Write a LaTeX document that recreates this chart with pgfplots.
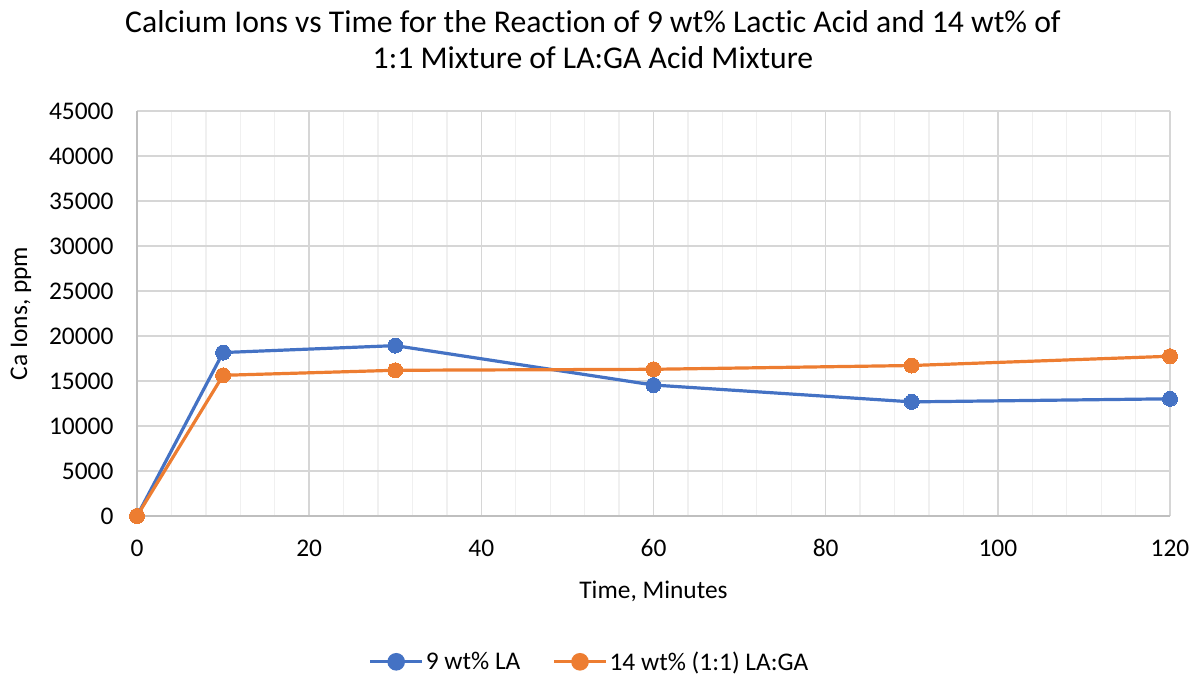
\documentclass[border=0pt]{standalone}
\usepackage{pgfplots}
\pgfplotsset{compat=1.18}
\usepackage{fontspec}
\setmainfont{Carlito}[Ligatures=NoCommon]
\definecolor{cblue}{HTML}{4472C4}
\definecolor{corange}{HTML}{ED7D31}
\definecolor{gmaj}{HTML}{D6D6D6}
\definecolor{gmin}{HTML}{F0F0F0}
\definecolor{axc}{HTML}{BFBFBF}
\begin{document}
\begin{tikzpicture}[x=1bp,y=1bp]
\path[use as bounding box] (0,0) rectangle (1197,677);
\node[font=\fontsize{31.8}{36}\selectfont, align=center] at (593,637) {Calcium Ions vs Time for the Reaction of 9 wt\% Lactic Acid and 14 wt\% of\\1:1 Mixture of LA:GA Acid Mixture};
\begin{axis}[
  at={(137bp,161bp)}, anchor=south west,
  scale only axis, width=1033bp, height=405bp,
  xmin=0, xmax=120, ymin=0, ymax=45000,
  xtick={0,20,...,120}, minor x tick num=4,
  ytick={0,5000,...,45000},
  scaled y ticks=false,
  yticklabel style={xshift=-20bp, /pgf/number format/.cd, fixed, 1000 sep={}},
  /pgf/number format/assume math mode=true,
  tick label style={font=\fontsize{25.5}{28}\selectfont},
  xticklabel style={yshift=-20bp},
  major tick length=0pt, minor tick length=0pt,
  xmajorgrids, ymajorgrids, xminorgrids,
  major grid style={gmaj, line width=1.4bp},
  minor grid style={gmin, line width=1.3bp},
  axis line style={axc, line width=1.3bp},
  axis x line*=bottom, axis y line*=left,
  xlabel={Time, Minutes}, ylabel={Ca Ions, ppm},
  label style={font=\fontsize{25.5}{28}\selectfont},
  xlabel style={at={(axis description cs:0.5,-0.185)}, anchor=center},
  ylabel style={at={(axis description cs:-0.1123,0.5)}, anchor=center},
  legend columns=2,
  legend style={at={(0.438,-0.36)}, anchor=center, draw=none, font=\fontsize{25.5}{28}\selectfont, /tikz/every even column/.append style={column sep=30bp}},
  legend image code/.code={
    \draw[#1, mark=none] (0bp,0bp) -- (52bp,0bp);
    \fill[#1] (26bp,0bp) circle (7.2bp);
  },
]
\addplot[cblue, line width=3.2bp, mark=*, mark size=7.5bp, mark options={fill=cblue, draw=cblue, line width=0pt}] coordinates {
(0,0) (10,18160) (30,18930) (60,14550) (90,12680) (120,13020)
};
\addlegendentry{9 wt\% LA}
\addplot[corange, line width=3.2bp, mark=*, mark size=7.5bp, mark options={fill=corange, draw=corange, line width=0pt}] coordinates {
(0,0) (10,15630) (30,16190) (60,16300) (90,16720) (120,17750)
};
\addlegendentry{14 wt\% (1:1) LA:GA}
\end{axis}
\end{tikzpicture}
\end{document}
